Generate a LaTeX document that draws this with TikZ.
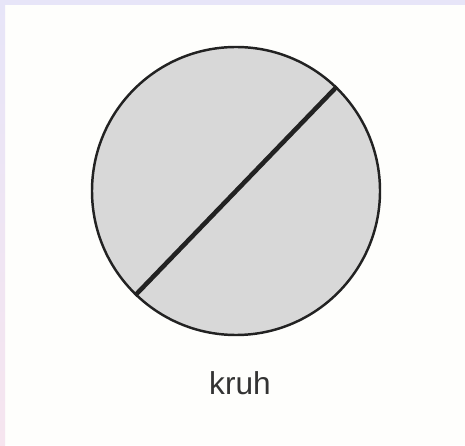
\documentclass[tikz,border=0pt]{standalone}
\usepackage{fontspec}
\setmainfont{Liberation Sans}
\usetikzlibrary{positioning}
\definecolor{paper}{HTML}{FEFEFC}
\definecolor{lavband}{HTML}{E7E5F8}
\definecolor{pinkband}{HTML}{F6E5EF}
\definecolor{stipple}{HTML}{D8D8D8}
\definecolor{inkdark}{HTML}{222222}
\definecolor{txtgray}{HTML}{333333}

\tikzset{
  disk/.style={circle, draw=inkdark, line width=1.4pt, fill=stipple,
    minimum size=288*0.02cm, inner sep=0pt},
  diameter/.style={inkdark, line width=2.6pt},
  caption/.style={font=\fontsize{18}{21}\selectfont, text=txtgray, inner sep=0pt}
}

\begin{document}
\begin{tikzpicture}[x=0.02cm, y=-0.02cm]

% Background and frame
\fill[paper] (0,0) rectangle (465,445);
\useasboundingbox (0,0) rectangle (465,445);
\fill[lavband] (0,0) rectangle (465,5);
\shade[top color=lavband, bottom color=pinkband] (0,0) rectangle (5,445);

% Circle with its diameter
\node[disk] (kruh) at (236,191) {};
\draw[diameter] (kruh.46) -- (kruh.226);

% Label
\node[caption] (name) at (240,383) {kruh};

\end{tikzpicture}
\end{document}
